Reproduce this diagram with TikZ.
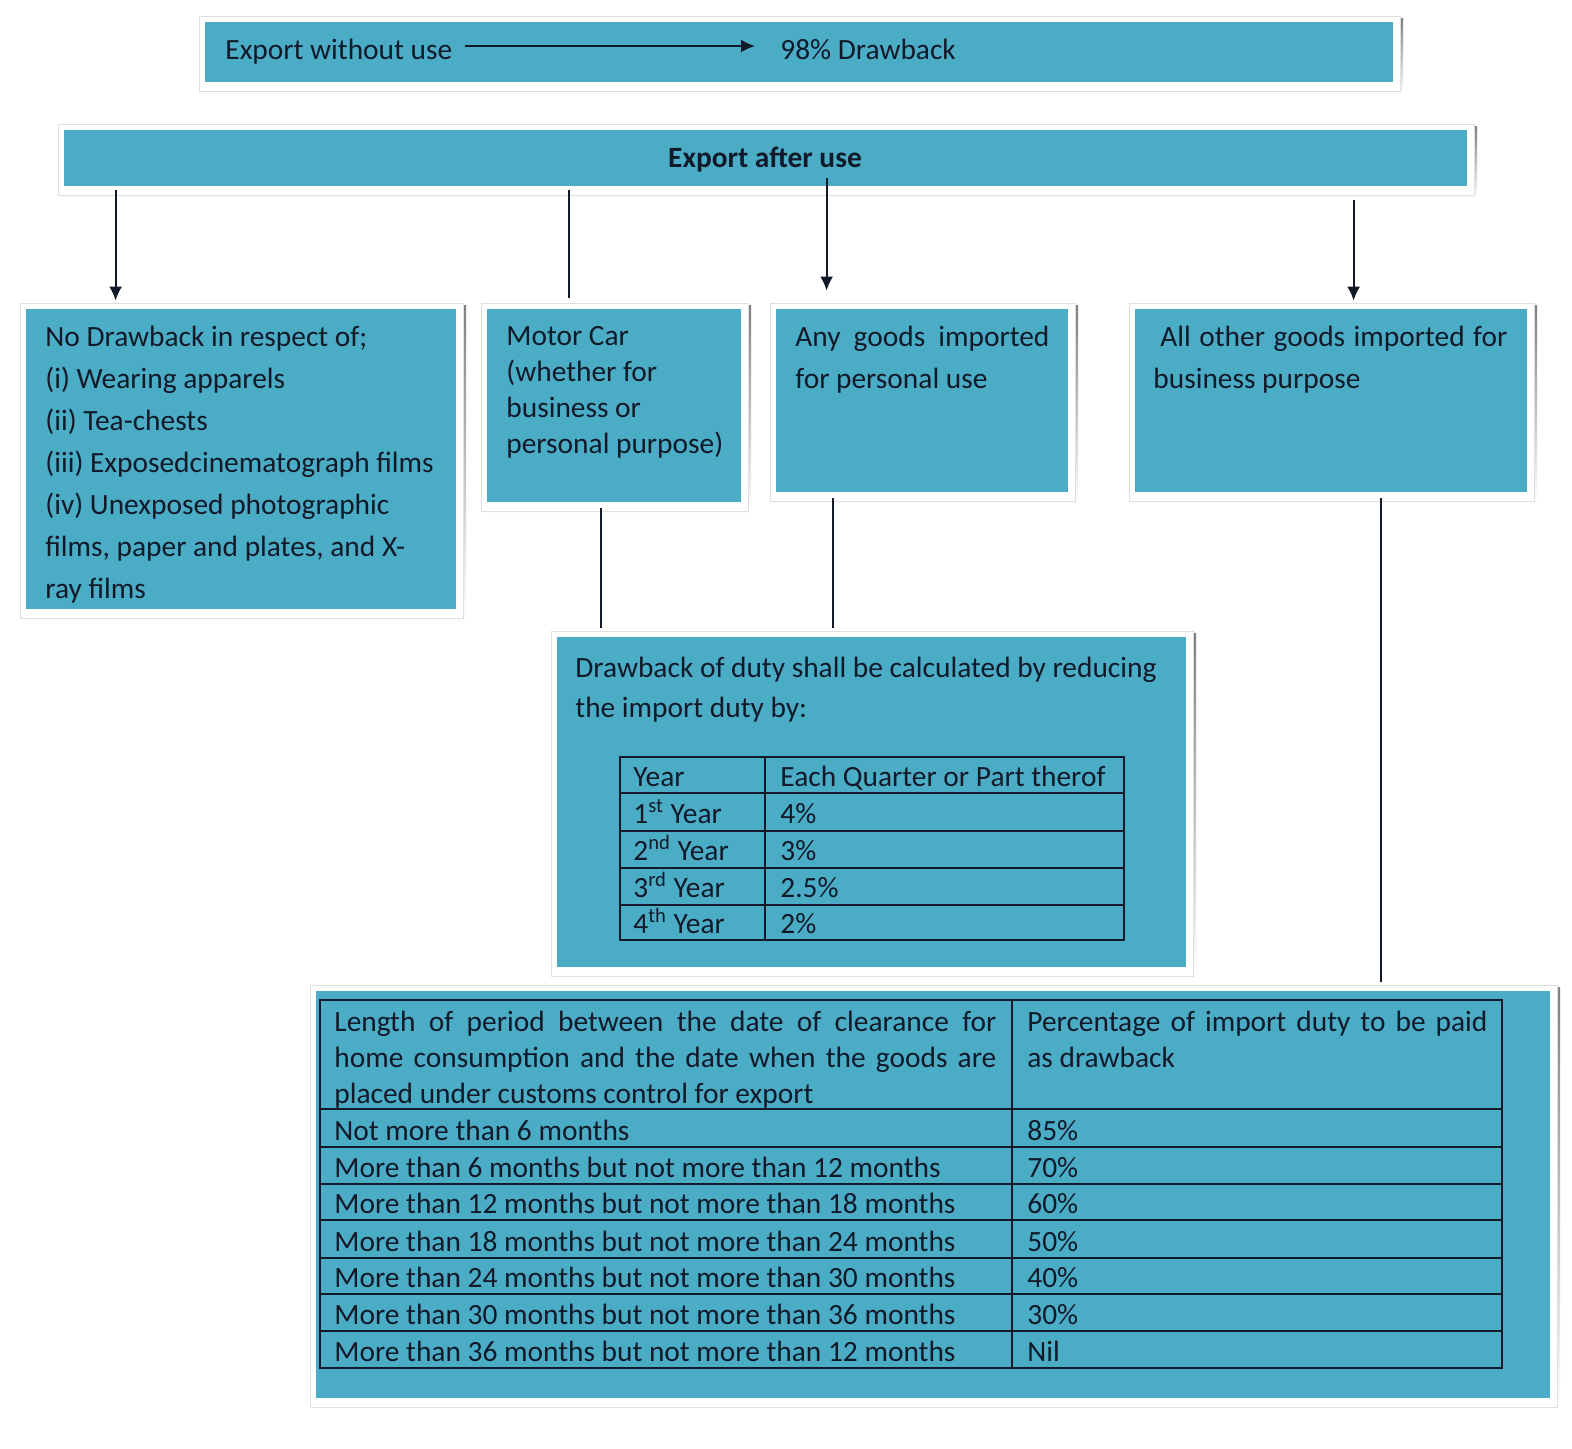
\documentclass[tikz,border=0pt]{standalone}
\usepackage{fontspec}
\setmainfont{Carlito}
\usetikzlibrary{fit,calc,arrows.meta}
\definecolor{aqua}{HTML}{4BACC6}
\definecolor{ink}{HTML}{121A2A}
\definecolor{shade}{HTML}{9AA3AD}
\newcommand\panel[5]{%
  \fill[shade] (#2-5,#3-4) rectangle (#4+10,#5+12);
  \filldraw[fill=white,draw=gray!25,line width=0.5pt] (#2-6,#3-6) rectangle (#4+7,#5+9);
  \node[box, fit={(#2,#3)(#4,#5)}] (#1) {};
}
\begin{document}
\begin{tikzpicture}[x=0.5pt,y=-0.5pt,
  box/.style={fill=aqua, draw=none, inner sep=0pt},
  txt/.style={font=\fontsize{14.7}{21}\selectfont, text=ink, inner sep=0pt},
  link/.style={draw=ink, line width=1pt},
  arr/.style={link, -{Latex[length=7pt,width=6.5pt]}},
  grid/.style={draw=ink, line width=1pt}]
\fill[white] (0,0) rectangle (1572,1448);
\useasboundingbox (0,0) rectangle (1572,1448);

% panels
\panel{topbox}{205}{22}{1393}{82}
\panel{after}{64}{130}{1467}{186}
\panel{nodraw}{26}{309}{456}{609}
\panel{motor}{487}{309}{741}{502}
\panel{anygoods}{776}{309}{1068}{492}
\panel{others}{1135}{309}{1527}{492}
\panel{calc}{557}{637}{1186}{967}
\panel{period}{316}{991}{1550}{1398}

% top box
\node[txt, anchor=base west] (ewu) at (225,59) {Export without use};
\node[txt, anchor=base west] (dbk) at (780,59) {98\% Drawback};
\draw[arr] ($(ewu.base east)+(12,-13)$) -- ($(dbk.base west)+(-25,-13)$);

\node[txt, anchor=base] (eau) at (765,167) {\bfseries Export after use};

% connectors from "Export after use"
\draw[arr] ($(after.south west)+(52,4)$) -- ($(nodraw.north west)+(90,-8)$);
\draw[link] ($(after.south west)+(505,4)$) -- ($(motor.north west)+(82,-11)$);
\draw[arr] ($(after.south west)+(763,-8)$) -- ($(anygoods.north west)+(51,-18)$);
\draw[arr] ($(after.south west)+(1290,14)$) -- ($(others.north west)+(219,-8)$);

% connectors to lower boxes
\draw[link] ($(motor.south west)+(114,6)$) -- ($(calc.north west)+(44,-9)$);
\draw[link] ($(anygoods.south west)+(57,6)$) -- ($(calc.north west)+(276,-9)$);
\draw[link] ($(others.south west)+(246,6)$) -- ($(period.north west)+(1065,-9)$);

% box texts
\node[txt, anchor=north west, align=left] (t1) at (45,326)
 {No Drawback in respect of;\\(i) Wearing apparels\\(ii) Tea-chests\\(iii) Exposedcinematograph films\\(iv) Unexposed photographic\\films, paper and plates, and X-\\ray films};
\node[txt, anchor=north west, align=left, font=\fontsize{14.7}{18}\selectfont] (t2) at (506,326)
 {Motor Car\\(whether for\\business or\\personal purpose)};
\node[txt, anchor=north west, align=justify, text width=127pt] (t3) at (795,326)
 {Any goods imported\linebreak for personal use};
\node[txt, anchor=north west, align=justify, text width=177pt] (t4) at (1153,326)
 {\hspace*{3.5pt}All other goods imported for\linebreak business purpose};
\node[txt, anchor=north west, align=left, font=\fontsize{14.7}{20}\selectfont] (t5) at (575,657)
 {Drawback of duty shall be calculated by reducing\\the import duty by:};

% year table
\draw[grid] (620,757) rectangle (1124,940);
\foreach \yy in {793,831,868,905} \draw[grid] (620,\yy) -- (1124,\yy);
\draw[grid] (765,757) -- (765,940);
\foreach \yy/\a/\b [count=\i] in {786/Year/Each Quarter or Part therof,
  823/1\textsuperscript{st} Year/4\%,
  860/2\textsuperscript{nd} Year/3\%,
  897/3\textsuperscript{rd} Year/2.5\%,
  933/4\textsuperscript{th} Year/2\%}{
  \node[txt, anchor=base west] (yr\i) at (633,\yy) {\a};
  \node[txt, anchor=base west] (pc\i) at (780,\yy) {\b};
}

% period table
\draw[grid] (320,1000) rectangle (1502,1368);
\foreach \yy in {1109,1147,1184,1220,1258,1294,1331} \draw[grid] (320,\yy) -- (1502,\yy);
\draw[grid] (1012,1000) -- (1012,1368);
\node[txt, anchor=north west, align=justify, text width=331pt, font=\fontsize{14.7}{18}\selectfont] (h1) at (334,1011)
 {Length of period between the date of clearance for\linebreak home consumption and the date when the goods are\linebreak placed under customs control for export};
\node[txt, anchor=north west, align=justify, text width=230pt, font=\fontsize{14.7}{18}\selectfont] (h2) at (1027,1011)
 {Percentage of import duty to be paid\linebreak as drawback};
\foreach \yy/\a/\b [count=\i] in {1140/Not more than 6 months/85\%,
  1177/More than 6 months but not more than 12 months/70\%,
  1213/More than 12 months but not more than 18 months/60\%,
  1251/More than 18 months but not more than 24 months/50\%,
  1287/More than 24 months but not more than 30 months/40\%,
  1324/More than 30 months but not more than 36 months/30\%,
  1361/More than 36 months but not more than 12 months/Nil}{
  \node[txt, anchor=base west] (pr\i) at (334,\yy) {\a};
  \node[txt, anchor=base west] (pv\i) at (1027,\yy) {\b};
}
\end{tikzpicture}
\end{document}
